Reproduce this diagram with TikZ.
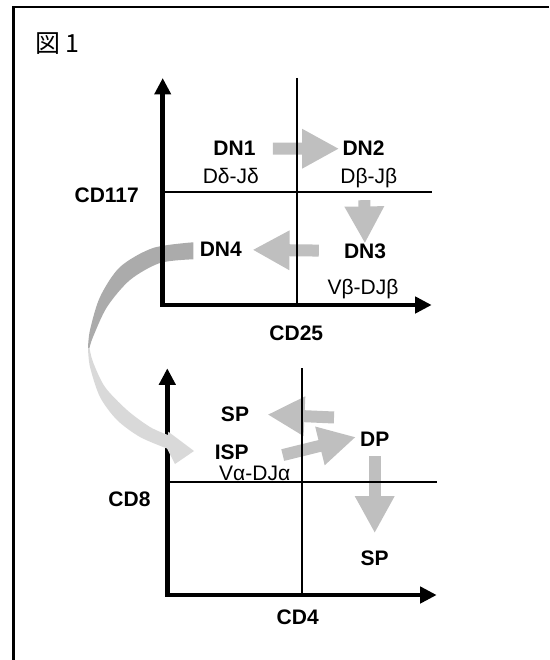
\documentclass[tikz,border=0pt]{standalone}
\usepackage{fontspec}
\setmainfont{Liberation Sans}
\newfontfamily\cjk{Noto Sans CJK JP}
\usetikzlibrary{arrows.meta,calc}
\newcommand{\lblsize}{\fontsize{21}{25}\selectfont}
\tikzset{
    cellname/.style={font=\lblsize\bfseries, anchor=base, inner sep=0pt},
    genelabel/.style={font=\lblsize, anchor=base, inner sep=0pt},
    cdaxis/.style={line width=4.6pt, {Triangle[length=16.5pt,width=16pt]}-{Triangle[length=16.5pt,width=16pt]}},
    divider/.style={line width=1.8pt},
    flowarrow/.style={draw=black!25, line width=12pt, -{Triangle[length=37pt,width=37pt]}},
}
\begin{document}
\begin{tikzpicture}[x=1pt,y=-1pt]
    \useasboundingbox (0,0) rectangle (549,660);
    \draw[line width=2.2pt] (549,6.8) -- (13.5,6.8) -- (13.5,661);
    \node[anchor=base west, inner sep=0pt, font=\cjk\fontsize{25}{30}\selectfont] (title) at (35,53) {図\hspace{5pt}1};
    % CD4 / CD8 panel
    \draw[cdaxis] (167.3,368.3) -- (167.3,595) -- (436.7,595);
    % DN4 -> ISP bend
    \fill[black!33] plot[smooth] coordinates {(193.3,242.3) (153,248) (120,267) (100,297) (90,330) (88,348)}
        -- plot[smooth] coordinates {(89.5,348) (93,337) (107,307) (130,280) (160,263) (193.3,259.3)} -- cycle;
    \fill[black!15] plot[smooth] coordinates {(88,348) (90,367) (100,397) (117,420) (140,437) (167,448.5)}
        -- (175,464) -- (194,451) -- (168.3,431.7)
        -- plot[smooth] coordinates {(168,435) (150,427) (127,410) (105,387) (93,362) (89.5,348)} -- cycle;
    % CD25 / CD117 panel
    \draw[cdaxis] (162.7,78) -- (162.7,305) -- (431.7,305);
    \foreach \n/\x/\y in {DN1/234.5/156, DN2/363.5/156, DN3/365/258.3, DN4/220.8/256.7}
        \node[cellname] (\n) at (\x,\y) {\n};
    \foreach \n/\t/\x/\y in {SPa/SP/235/421, ISP/ISP/231.7/459, DP/DP/374.7/446.7, SPb/SP/374.7/565,
        CD117/CD117/106.7/202.7, CD25/CD25/296.3/340.5, CD8/CD8/129.5/506, CD4/CD4/297.7/624.5}
        \node[cellname] (\n) at (\x,\y) {\t};
    \foreach \t/\x/\y [count=\i] in {Dδ-Jδ/230.8/183.3, Dβ-Jβ/368.8/183.3, Vβ-DJβ/363/294, Vα-DJα/254.7/480}
        \node[genelabel] (G\i) at (\x,\y) {\t};
    \draw[flowarrow, shorten <=17.2pt, shorten >=3.2pt] (DN1) -- (DN2);
    \draw[flowarrow, shorten <=44pt] (DN2) -- (DN3);
    \draw[flowarrow, shorten <=25pt, shorten >=10.5pt] (DN3) -- (DN4);
    \draw[flowarrow, shorten <=34.9pt, shorten >=4.2pt] ($(ISP.south east)+(0,4)$) -- ($(DP.north west)+(0,4)$);
    \coordinate (fork) at (334,417.5);
    \draw[flowarrow, shorten >=18.3pt] (fork) -- (SPa.east);
    \draw[flowarrow, shorten <=9.3pt, shorten >=17pt] (DP) -- (SPb);
    \draw[divider] (296.7,78) -- (296.7,305);
    \draw[divider] (162.7,192.3) -- (431.7,192.3);
    \draw[divider] (302.3,368.3) -- (302.3,595);
    \draw[divider] (167.3,482.3) -- (436.7,482.3);
\end{tikzpicture}
\end{document}
